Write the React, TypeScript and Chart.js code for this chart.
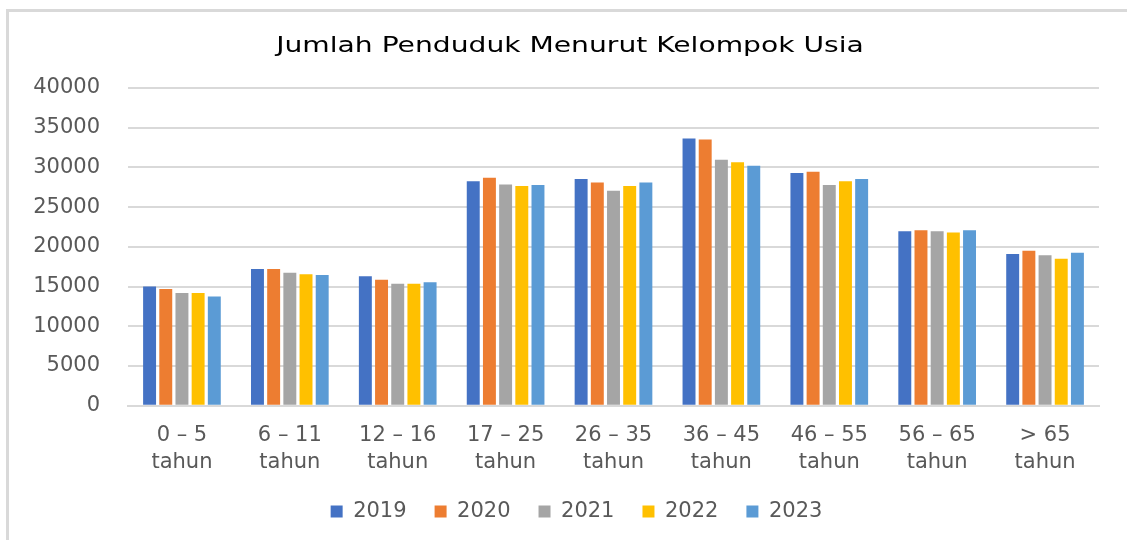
import React, { useEffect, useRef } from "react";
import { Chart, registerables } from "chart.js";

Chart.register(...registerables);

const categories: string[][] = [
  ["0 – 5", "tahun"],
  ["6 – 11", "tahun"],
  ["12 – 16", "tahun"],
  ["17 – 25", "tahun"],
  ["26 – 35", "tahun"],
  ["36 – 45", "tahun"],
  ["46 – 55", "tahun"],
  ["56 – 65", "tahun"],
  ["> 65", "tahun"],
];

const years = ["2019", "2020", "2021", "2022", "2023"];

const values2019 = [15000, 17200, 16300, 28250, 28550, 33650, 29300, 21950, 19100];
const values2020 = [14700, 17200, 15850, 28700, 28100, 33500, 29450, 22100, 19500];
const values2021 = [14200, 16750, 15350, 27850, 27050, 30950, 27800, 21950, 18950];
const values2022 = [14200, 16550, 15350, 27650, 27650, 30650, 28250, 21800, 18500];
const values2023 = [13750, 16450, 15550, 27800, 28100, 30200, 28550, 22100, 19250];

const seriesValues = [values2019, values2020, values2021, values2022, values2023];
const colors = ["#4472C4", "#ED7D31", "#A5A5A5", "#FFC000", "#5B9BD5"];

const titleText = "Jumlah Penduduk Menurut Kelompok Usia";
const yMax = 40000;
const yStep = 5000;

const FONT = "'DejaVu Sans', sans-serif";

const stretchedTitle = {
  id: "stretchedTitle",
  afterDraw(chart: any) {
    const ctx = chart.ctx;
    ctx.save();
    ctx.fillStyle = "#000000";
    ctx.font = `22px ${FONT}`;
    ctx.textAlign = "center";
    ctx.textBaseline = "middle";
    ctx.translate(570, 46);
    ctx.scale(1.28, 1);
    ctx.fillText(titleText, 0, 0);
    ctx.restore();
  },
};

export default function App() {
  const ref = useRef<HTMLCanvasElement | null>(null);

  useEffect(() => {
    if (!ref.current) return;
    const chart = new Chart(ref.current, {
      type: "bar",
      data: {
        labels: categories,
        datasets: years.map((y, i) => ({
          label: y,
          data: seriesValues[i],
          backgroundColor: colors[i],
          borderWidth: 0,
          categoryPercentage: 0.75,
          barPercentage: 0.8,
        })),
      },
      options: {
        animation: false,
        responsive: false,
        maintainAspectRatio: false,
        layout: { padding: { left: 26, right: 0, top: 88, bottom: 8 } },
        plugins: {
          title: { display: false },
          legend: {
            position: "bottom",
            labels: {
              color: "#595959",
              font: { family: FONT, size: 21 },
              boxWidth: 12,
              boxHeight: 12,
              padding: 28,
            },
          },
          tooltip: { enabled: false },
        },
        scales: {
          x: {
            grid: { display: false },
            border: { display: true, color: "#d9d9d9", width: 2 },
            afterFit: (s: any) => {
              s.height = s.height - 12;
            },
            ticks: {
              color: "#595959",
              font: { family: FONT, size: 21, lineHeight: 1.27 },
              padding: 9,
              maxRotation: 0,
              autoSkip: false,
            },
          },
          y: {
            min: 0,
            max: yMax,
            afterFit: (s: any) => {
              s.width = 102;
            },
            grid: { color: "#d9d9d9", lineWidth: 2, drawTicks: false },
            border: { display: false },
            ticks: {
              stepSize: yStep,
              color: "#595959",
              font: { family: FONT, size: 21 },
              padding: 28,
              callback: (v: any) => String(v),
            },
          },
          yRight: {
            type: "linear",
            position: "right",
            min: 0,
            max: yMax,
            afterFit: (s: any) => {
              s.width = 28;
            },
            grid: { display: false },
            border: { display: false },
            ticks: { display: false },
          },
        },
      },
      plugins: [stretchedTitle],
    });
    return () => chart.destroy();
  }, []);

  return (
    <div style={{ position: "fixed", left: 0, top: 0, width: 1127, height: 540, overflow: "hidden", background: "#fff" }}>
      <div
        style={{
          position: "absolute",
          left: 6,
          top: 9,
          width: 1300,
          height: 700,
          border: "3px solid #d9d9d9",
          boxSizing: "border-box",
        }}
      />
      <canvas ref={ref} width={1127} height={540} style={{ position: "absolute", left: 0, top: 0 }} />
    </div>
  );
}
